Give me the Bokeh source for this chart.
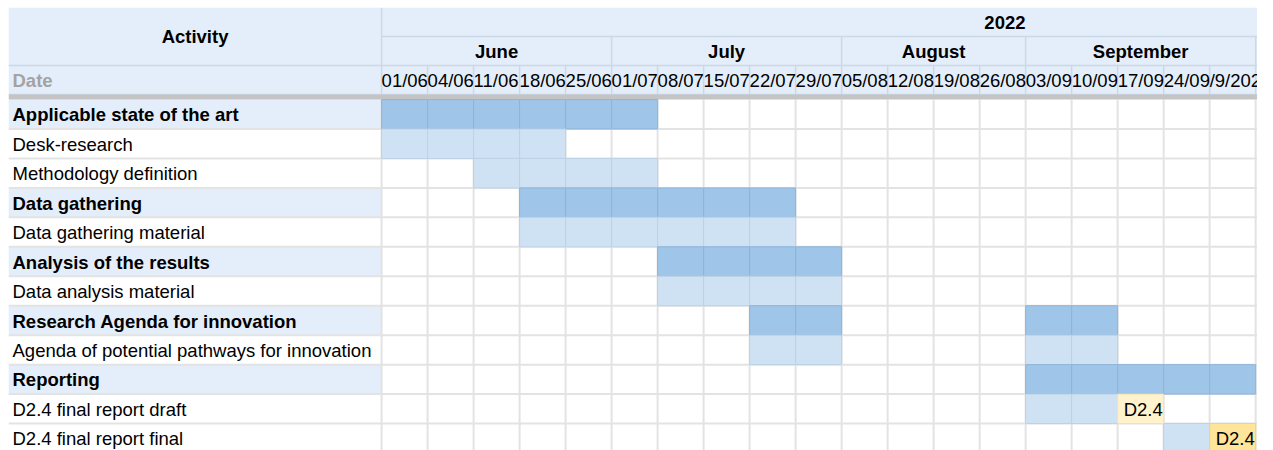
from bokeh.plotting import figure
from bokeh.models import Range1d, ColumnDataSource
from bokeh.core.properties import value
from bokeh.embed import file_html
from bokeh.resources import INLINE

# ---------------- data ----------------
year_label = "2022"
year_span_weeks = 27.1          # merged year cell continues beyond the visible area
months = ["June", "July", "August", "September"]
month_weeks = [5, 5, 4, 5]
week_labels = ["01/06", "04/06", "11/06", "18/06", "25/06", "01/07", "08/07", "15/07",
               "22/07", "29/07", "05/08", "12/08", "19/08", "26/08", "03/09", "10/09",
               "17/09", "24/09", "/9/2022"]
activities = ["Applicable state of the art", "Desk-research", "Methodology definition",
              "Data gathering", "Data gathering material", "Analysis of the results",
              "Data analysis material", "Research Agenda for innovation",
              "Agenda of potential pathways for innovation", "Reporting",
              "D2.4 final report draft", "D2.4 final report final"]
is_phase = [True, False, False, True, False, True, False, True, False, True, False, False]
# task spans: activity index, first week index, last week index (inclusive)
span_activity = [0, 1, 2, 3, 4, 5, 6, 7, 7, 8, 8, 9, 10, 11]
span_first = [0, 0, 2, 3, 3, 6, 6, 8, 14, 8, 14, 14, 14, 17]
span_last = [5, 3, 5, 8, 8, 9, 9, 9, 15, 9, 15, 18, 15, 17]
milestone_activity = [10, 11]
milestone_week = [16, 18]
milestone_label = ["D2.4", "D2.4"]
milestone_kind = ["draft", "final"]

# ---------------- layout / style ----------------
LABEL_W = 8.11
VIEW_END = 19.04
HR = 0.985
SEP = 0.17
DATA0 = 3 * HR + SEP
N_W = len(week_labels)
N_A = len(activities)
FONT = value("Liberation Sans")
FS = "18.5px"
HEAD_BG = "#E4EEFA"
HEAD_LINE = "#CAD8E8"
GRID = "#E3E3E3"
PHASE_FILL, PHASE_LINE = "#9FC5E8", "#8DB4DA"
TASK_FILL, TASK_LINE = "#CFE2F3", "#BCD1E6"
MS_FILL = {"draft": "#FFF2CC", "final": "#FFE599"}
MS_LINE = {"draft": "#F1E2B4", "final": "#F0D27C"}

p = figure(width=1257, height=450, x_range=Range1d(-LABEL_W, VIEW_END),
           y_range=Range1d(15.04, 0), toolbar_location=None, output_backend="svg",
           x_axis_type=None, y_axis_type=None, min_border=0,
           min_border_left=8, min_border_top=7, outline_line_color=None)
p.grid.visible = False

# header background
p.quad(left=[-LABEL_W], right=[VIEW_END + 1], top=[0], bottom=[3 * HR],
       fill_color=HEAD_BG, line_color=None)
# phase label backgrounds
ph_rows = [i for i in range(N_A) if is_phase[i]]
p.quad(left=[-LABEL_W] * len(ph_rows), right=[0] * len(ph_rows),
       top=[DATA0 + i for i in ph_rows], bottom=[DATA0 + i + 1 for i in ph_rows],
       fill_color=HEAD_BG, line_color=None)

# grid lines in data area
bottom = DATA0 + N_A
hx0 = [-LABEL_W] * N_A
hx1 = [VIEW_END + 1] * N_A
hy = [DATA0 + i + 1 for i in range(N_A)]
p.segment(x0=hx0, y0=hy, x1=hx1, y1=hy, line_color=GRID, line_width=2)
vx = list(range(1, N_W + 1))
p.segment(x0=vx, y0=[DATA0] * len(vx), x1=vx, y1=[bottom] * len(vx),
          line_color=GRID, line_width=2)
p.segment(x0=[0], y0=[DATA0], x1=[0], y1=[bottom], line_color=GRID, line_width=2)

# header lines
p.segment(x0=[0, -LABEL_W, -LABEL_W], y0=[HR, 2 * HR, 3 * HR],
          x1=[VIEW_END + 1] * 3, y1=[HR, 2 * HR, 3 * HR], line_color=HEAD_LINE, line_width=1.5)
p.segment(x0=[0], y0=[0], x1=[0], y1=[3 * HR], line_color=HEAD_LINE, line_width=1.5)
mb = []
acc = 0
for m in month_weeks:
    acc += m
    mb.append(acc)
p.segment(x0=mb, y0=[HR] * len(mb), x1=mb, y1=[2 * HR] * len(mb),
          line_color=HEAD_LINE, line_width=1.5)
p.segment(x0=vx, y0=[2 * HR] * len(vx), x1=vx, y1=[3 * HR] * len(vx),
          line_color=HEAD_LINE, line_width=1.5)

# separator
p.quad(left=[-LABEL_W], right=[VIEW_END + 1], top=[3 * HR], bottom=[DATA0],
       fill_color="#C4C4C4", line_color=None)

# bar cells
cl, cr, ct, cb, cf, cline = [], [], [], [], [], []
for a, f, l in zip(span_activity, span_first, span_last):
    for w in range(f, l + 1):
        cl.append(w); cr.append(w + 1)
        ct.append(DATA0 + a); cb.append(DATA0 + a + 1)
        cf.append(PHASE_FILL if is_phase[a] else TASK_FILL)
        cline.append(PHASE_LINE if is_phase[a] else TASK_LINE)
p.quad(source=ColumnDataSource(dict(left=cl, right=cr, top=ct, bottom=cb, fc=cf, lc=cline)),
       left="left", right="right", top="top", bottom="bottom",
       fill_color="fc", line_color="lc", line_width=1)

# milestones
ms = ColumnDataSource(dict(
    left=milestone_week, right=[w + 1 for w in milestone_week],
    top=[DATA0 + a for a in milestone_activity], bottom=[DATA0 + a + 1 for a in milestone_activity],
    ymid=[DATA0 + a + 0.52 for a in milestone_activity],
    fc=[MS_FILL[k] for k in milestone_kind], lc=[MS_LINE[k] for k in milestone_kind],
    label=milestone_label))
p.quad(source=ms, left="left", right="right", top="top", bottom="bottom",
       fill_color="fc", line_color="lc", line_width=1)
p.text(source=ms, x="left", y="ymid", text="label", x_offset=6, text_baseline="middle",
       text_font=FONT, text_font_size=FS, text_color="#000000")

# activity labels
for i, name in enumerate(activities):
    p.text(x=[-LABEL_W], y=[DATA0 + i + 0.52], text=[name], x_offset=4,
           text_baseline="middle", text_font=FONT, text_font_size=FS,
           text_font_style="bold" if is_phase[i] else "normal", text_color="#000000")

# header texts
p.text(x=[-LABEL_W / 2], y=[HR], text=["Activity"], text_align="center",
       text_baseline="middle", text_font=FONT, text_font_size=FS,
       text_font_style="bold", text_color="#000000")
p.text(x=[-LABEL_W], y=[2.5 * HR], text=["Date"], x_offset=4, text_baseline="middle",
       text_font=FONT, text_font_size=FS, text_font_style="bold", text_color="#A3A3A3")
p.text(x=[year_span_weeks / 2], y=[0.5 * HR], text=[year_label], text_align="center",
       text_baseline="middle", text_font=FONT, text_font_size=FS,
       text_font_style="bold", text_color="#000000")
mstart = [0] + mb[:-1]
p.text(x=[(s + e) / 2 for s, e in zip(mstart, mb)], y=[1.5 * HR] * len(months), text=months,
       text_align="center", text_baseline="middle", text_font=FONT, text_font_size=FS,
       text_font_style="bold", text_color="#000000")
p.text(x=list(range(N_W)), y=[2.5 * HR] * N_W, text=week_labels, x_offset=0,
       text_baseline="middle", text_font=FONT, text_font_size=FS, text_color="#000000")

open("out.html", "w").write(file_html(p, INLINE))
